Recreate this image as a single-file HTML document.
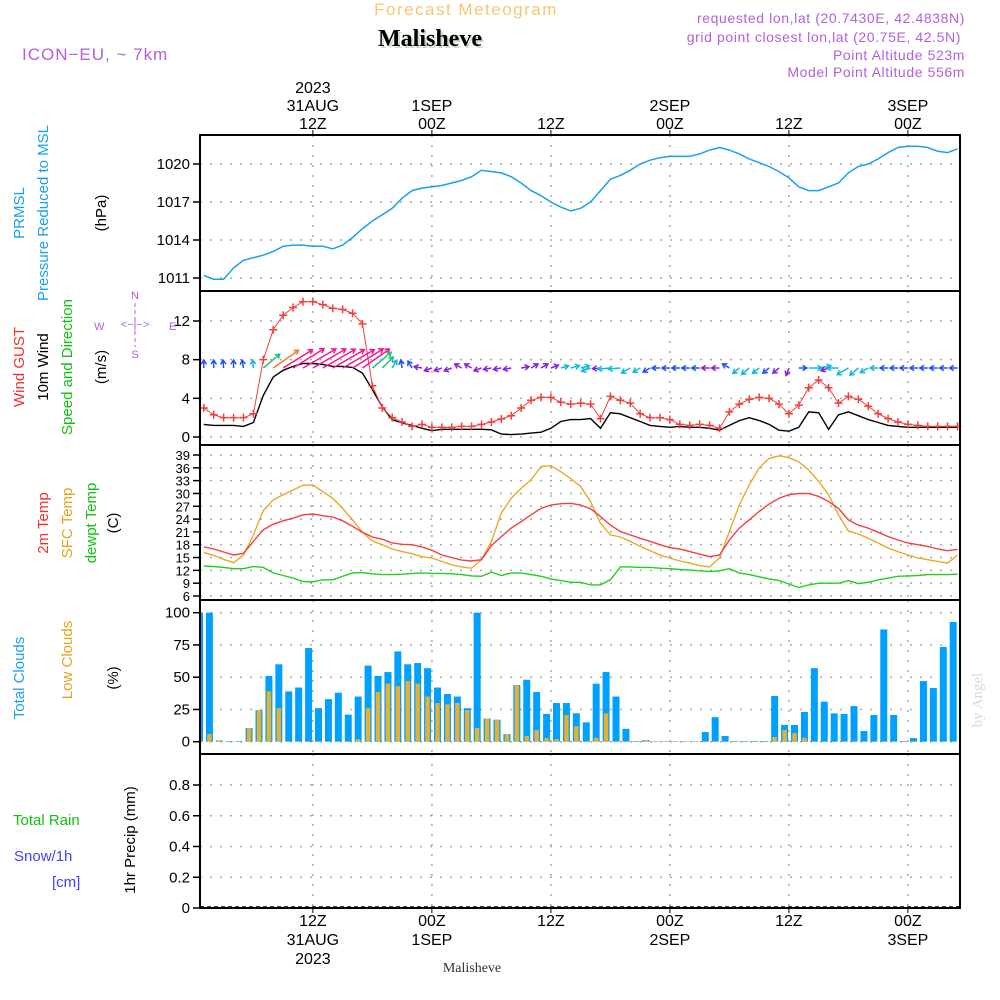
<!DOCTYPE html>
<html><head><meta charset="utf-8"><style>
html,body{margin:0;padding:0;background:#fff}
svg{display:block}
text{font-family:"Liberation Sans",sans-serif}
text.serif{font-family:"Liberation Serif",serif}
</style></head><body>
<svg id="chart" width="1000" height="1000" viewBox="0 0 1000 1000">
<text x="466" y="15" font-size="17" fill="#f5c870" text-anchor="middle" letter-spacing="1.5">Forecast Meteogram</text>
<text class="serif" x="432" y="48" font-size="24" font-weight="bold" text-anchor="middle" fill="#c8dcc8">Malisheve</text>
<text class="serif" x="430" y="46" font-size="24" font-weight="bold" text-anchor="middle" fill="#000">Malisheve</text>
<text x="22" y="60" font-size="17" fill="#b060e0" letter-spacing="1">ICON−EU, ~ 7km</text>
<g font-size="14" fill="#b060e0" text-anchor="end" letter-spacing="0.6">
<text x="965" y="23">requested lon,lat (20.7430E, 42.4838N)</text>
<text x="961" y="42">grid point closest lon,lat (20.75E, 42.5N)</text>
<text x="965" y="60">Point Altitude 523m</text>
<text x="965" y="77">Model Point Altitude 556m</text>
</g>
<g id="axes"></g>
<g id="marks"></g>
<g font-size="15">
<text transform="translate(24,213) rotate(-90)" fill="#1aa0ee" text-anchor="middle">PRMSL</text>
<text transform="translate(48,213) rotate(-90)" fill="#1aa0ee" text-anchor="middle">Pressure Reduced to MSL</text>
<text transform="translate(106,213) rotate(-90)" fill="#000" text-anchor="middle">(hPa)</text>
<text transform="translate(24,367) rotate(-90)" fill="#f03030" text-anchor="middle">Wind GUST</text>
<text transform="translate(48,367) rotate(-90)" fill="#000" text-anchor="middle">10m Wind</text>
<text transform="translate(72,367) rotate(-90)" fill="#10c010" text-anchor="middle">Speed and Direction</text>
<text transform="translate(106,367) rotate(-90)" fill="#000" text-anchor="middle">(m/s)</text>
<text transform="translate(48,523) rotate(-90)" fill="#f03030" text-anchor="middle">2m Temp</text>
<text transform="translate(72,523) rotate(-90)" fill="#e8a020" text-anchor="middle">SFC Temp</text>
<text transform="translate(96,523) rotate(-90)" fill="#10c010" text-anchor="middle">dewpt Temp</text>
<text transform="translate(118,523) rotate(-90)" fill="#000" text-anchor="middle">(C)</text>
<text transform="translate(24,678) rotate(-90)" fill="#1aa0ee" text-anchor="middle">Total Clouds</text>
<text transform="translate(72,660) rotate(-90)" fill="#e8a020" text-anchor="middle">Low Clouds</text>
<text transform="translate(118,678) rotate(-90)" fill="#000" text-anchor="middle">(%)</text>
<text x="13" y="825" fill="#10c010">Total   Rain</text>
<text x="14" y="861" fill="#4040ff">Snow/1h</text>
<text x="52" y="887" fill="#4040ff">[cm]</text>
<text transform="translate(135,840) rotate(-90)" fill="#000" text-anchor="middle">1hr Precip (mm)</text>
</g>
<g font-size="11" fill="#b060e0">
<text x="135" y="299" text-anchor="middle">N</text>
<text x="135" y="358" text-anchor="middle">S</text>
<text x="94" y="330">W</text>
<text x="169" y="330">E</text>
<text x="135" y="328" text-anchor="middle">&lt;−|−&gt;</text>
<line x1="135" y1="303" x2="135" y2="347" stroke="#b060e0" stroke-dasharray="4,3"/>
</g>
<text class="serif" transform="translate(982,700) rotate(-90)" font-size="15" fill="#d8d8d8" text-anchor="middle">by Angel</text>
<text class="serif" x="472" y="972" font-size="14" fill="#333" text-anchor="middle">Malisheve</text>
</svg>
<script>
const pressure=[1011.2,1010.9,1010.9,1011.8,1012.4,1012.6,1012.8,1013.1,1013.5,1013.6,1013.6,1013.5,1013.5,1013.3,1013.6,1014.2,1014.9,1015.5,1016.0,1016.5,1017.3,1017.9,1018.1,1018.2,1018.3,1018.5,1018.7,1019.0,1019.5,1019.4,1019.3,1019.0,1018.5,1017.9,1017.5,1017.0,1016.6,1016.3,1016.5,1017.0,1017.9,1018.8,1019.1,1019.5,1020.0,1020.3,1020.5,1020.6,1020.6,1020.6,1020.8,1021.1,1021.3,1021.1,1020.8,1020.4,1020.1,1019.8,1019.4,1018.9,1018.2,1017.9,1017.9,1018.2,1018.5,1019.3,1019.8,1020.0,1020.4,1020.9,1021.3,1021.4,1021.4,1021.3,1021.0,1020.9,1021.2];
const gust=[3.0,2.3,2.0,2.0,2.0,2.4,8.0,11.1,12.6,13.4,14.0,14.0,13.7,13.3,13.2,12.8,11.7,5.3,3.0,2.0,1.55,1.1,1.3,1.0,1.0,1.0,1.1,1.1,1.3,1.55,1.86,2.2,3.0,3.8,4.1,4.1,3.6,3.4,3.5,3.4,1.9,4.2,3.8,3.5,2.4,2.0,2.0,1.8,1.3,1.2,1.3,1.2,0.9,2.6,3.4,3.9,4.1,4.0,3.4,2.4,3.3,5.1,5.9,5.1,3.5,4.2,3.9,3.2,2.4,1.9,1.55,1.3,1.2,1.1,1.1,1.1,1.1];
const wspd=[1.3,1.2,1.2,1.2,1.1,1.5,4.3,6.2,6.9,7.3,7.6,7.6,7.5,7.3,7.3,7.2,6.6,4.9,3.1,1.8,1.45,1.2,0.9,0.65,0.8,0.8,0.8,0.8,0.8,0.75,0.3,0.25,0.3,0.4,0.5,0.9,1.6,1.8,1.8,1.9,0.9,2.5,2.4,2.0,1.6,1.2,1.1,1.0,1.1,1.0,1.0,0.9,0.7,1.2,1.7,2.0,1.7,1.3,0.7,0.6,1.0,2.6,2.5,0.8,2.3,2.6,2.2,1.8,1.5,1.2,1.1,1.0,1.0,1.0,1.0,1.0,1.0];
const wdir=[90,90,95,90,100,95,40,35,32,32,30,30,30,30,30,32,35,40,45,60,100,120,170,200,200,200,150,150,200,190,190,190,10,30,30,20,15,15,15,200,185,185,185,210,210,210,180,180,180,180,180,180,180,150,220,220,220,220,220,250,0,0,10,200,180,210,220,210,180,180,180,180,180,180,180,180,180];
const temp2m=[17.5,17.0,16.3,15.6,16.0,18.8,21.5,22.8,23.6,24.2,25.0,25.2,24.8,24.5,23.6,22.3,20.9,19.8,19.3,18.4,18.1,18.0,17.5,16.7,15.6,15.0,14.4,14.2,14.5,17.8,19.9,21.9,23.4,25.0,26.5,27.3,27.6,27.7,27.3,26.4,24.6,22.6,21.1,20.3,19.5,18.8,18.0,17.3,17.0,16.4,15.8,15.2,15.6,19.1,21.9,23.8,25.8,27.5,28.9,29.7,30.0,30.0,29.3,28.1,26.5,23.8,22.6,21.9,20.9,19.9,19.1,18.4,18.0,17.6,17.0,16.6,16.9];
const tempSfc=[16.2,15.5,14.6,13.8,15.6,20.3,26.0,28.5,29.7,30.8,31.9,32.0,30.4,28.9,26.5,23.8,20.9,18.9,18.0,17.0,16.4,15.9,15.2,14.9,14.1,13.3,12.8,12.5,14.5,18.8,25.4,28.9,31.2,33.2,36.3,36.5,35.1,33.5,31.6,28.1,23.0,20.3,19.8,18.8,17.6,16.6,15.6,14.9,14.2,13.7,13.1,12.8,14.9,21.1,27.3,32.0,36.0,38.2,38.8,38.4,37.4,35.5,32.8,29.7,25.0,21.2,20.5,19.5,18.4,17.2,16.4,15.6,14.9,14.5,14.1,13.7,15.6];
const dewpt=[13.0,12.9,12.7,12.4,12.4,12.9,12.7,11.4,10.8,10.2,9.4,9.3,9.8,9.8,10.6,11.4,11.5,11.2,11.0,11.0,11.1,11.3,11.4,11.3,11.3,11.2,11.0,10.7,10.6,11.6,10.8,11.4,11.4,11.0,10.6,10.0,9.6,9.2,9.2,8.6,8.6,9.8,12.8,12.8,12.7,12.7,12.5,12.4,12.2,12.1,11.9,11.7,11.9,12.4,11.4,11.0,10.5,10.0,9.6,8.8,8.0,8.6,9.0,9.0,9.0,9.6,8.9,9.2,9.8,10.2,10.6,10.7,10.8,11.0,11.0,11.0,11.1];
const totalClouds=[100,100,1,0.5,0.5,10.6,24.5,51,60,39,42,72.6,26,33,38,21,35,59,51,54,70,60,61,57,42,37,35,26,100,18,17,6,44,48,38.5,21.5,30,30,22,15,45,54,35,10,0.5,1.3,0.3,0.3,0.3,0.3,0.3,7.5,19,4.4,0.5,0.5,0.5,0.5,35.4,13,13,23,57,31,22,21.5,27.6,8.3,20.7,87,20.7,0.5,2.8,47,41.6,73.4,92.8];
const lowClouds=[1.3,6,1,0.3,0.3,10.6,24.5,39,26,0.3,0.3,0.3,0.3,0.3,0.3,0.3,2,26,38.5,45,43,47,45,35,30,29,30,24.5,10.6,18,17,6,44,4.4,9,2.8,2,20.7,12,0.3,3,22,0.3,0.3,0.3,1.3,0.3,0.3,0.3,0.3,0.3,0.3,0.3,0.3,0.3,0.3,0.3,0.3,3.6,9,6.7,3,0.3,0.3,0.3,0.3,0.3,0.3,0.3,0.3,0.3,0.3,0.3,0.3,0.3,0.3,0.3];
const precip=[];
const pressTicks=[1011,1014,1017,1020];
const windTicks=[0,4,8,12];
const tempTicks=[6,9,12,15,18,21,24,27,30,33,36,39];
const cloudTicks=[0,25,50,75,100];
const precipTicks=[0,0.2,0.4,0.6,0.8];
const timeTicks=[11,23,35,47,59,71];
const timeTop=[["2023","31AUG","12Z"],["","1SEP","00Z"],["","","12Z"],["","2SEP","00Z"],["","","12Z"],["","3SEP","00Z"]];
const timeBottom=[["12Z","31AUG","2023"],["00Z","1SEP",""],["12Z","",""],["00Z","2SEP",""],["12Z","",""],["00Z","3SEP",""]];

const NS="http://www.w3.org/2000/svg";
const L=200,R=960;
const panels=[{t:135,b:291},{t:291,b:445},{t:445,b:600},{t:600,b:754},{t:754,b:908}];
function xh(h){return 203.8+9.917*h;}
function lin(d0,d1,r0,r1){return v=>r0+(v-d0)*(r1-r0)/(d1-d0);}
const yP=lin(1011,1020,278,164), yW=lin(0,12,437,321), yT=lin(6,39,596,455), yC=lin(0,100,741.7,612.7), yR=lin(0,0.8,908,785);
const axes=document.getElementById('axes'), marks=document.getElementById('marks');
function mk(tag,attrs,parent){const e=document.createElementNS(NS,tag);for(const k in attrs)e.setAttribute(k,attrs[k]);parent.appendChild(e);return e;}
const defs=mk('defs',{},document.getElementById('chart'));
panels.forEach((p,i)=>{const c=mk('clipPath',{id:'clip'+i},defs);mk('rect',{x:L,y:p.t,width:R-L,height:p.b-p.t},c);});
function yAxis(pi,ticks,fy,fmt){
  ticks.forEach(v=>{const y=fy(v);
    const g=mk('line',{x1:L,x2:R,y1:y,y2:y,stroke:'#aaa','stroke-width':1.5,'stroke-dasharray':'2,8'},axes);
    
    
    const tk=mk('line',{x1:L-7,x2:L,y1:y,y2:y,stroke:'#000','stroke-width':1.5},axes);
    
    
    const t=mk('text',{x:L-10,y:y+5,'font-size':pi==2?13:15,'text-anchor':'end',fill:'#000'},axes);
    t.textContent=fmt?fmt(v):v;
    
    
  });
}
panels.forEach((p,i)=>{
  timeTicks.forEach(h=>{const x=xh(h);
    const g=mk('line',{x1:x,x2:x,y1:p.t,y2:p.b,stroke:'#aaa','stroke-width':1.5,'stroke-dasharray':'2,8'},axes);
    
    
  });
});
yAxis(0,pressTicks,yP);
yAxis(1,windTicks,yW);
yAxis(2,tempTicks,yT);
yAxis(3,cloudTicks,yC);
yAxis(4,precipTicks,yR,v=>v===0?'0':v.toFixed(1));
timeTicks.forEach((h,i)=>{const x=xh(h);
  mk('line',{x1:x,x2:x,y1:130,y2:135,stroke:'#000'},axes);
  mk('line',{x1:x,x2:x,y1:908,y2:913,stroke:'#000'},axes);
  timeTop[i].forEach((s,j)=>{if(!s)return;const t=mk('text',{x:x,y:93+j*18,'font-size':16,'text-anchor':'middle',fill:'#000'},axes);t.textContent=s;
    
    });
  timeBottom[i].forEach((s,j)=>{if(!s)return;const t=mk('text',{x:x,y:926+j*19,'font-size':16,'text-anchor':'middle',fill:'#000'},axes);t.textContent=s;
    
    });
});
function line(arr,fy,color,pi,w,name){
  const d=arr.map((v,h)=>(h?'L':'M')+xh(h).toFixed(1)+','+fy(v).toFixed(1)).join('');
  const e=mk('path',{d:d,fill:'none',stroke:color,'stroke-width':w||1.4,'clip-path':'url(#clip'+pi+')'},marks);
  
  
}
line(pressure,yP,'#1aa0ee',0,1.5,'pressure-line');
totalClouds.forEach((v,h)=>{const cx=xh(h)-4.3;const y=yC(v);
  const b=mk('rect',{x:cx-3.5,y:y,width:7,height:yC(0)-y,fill:'#00a0ff','clip-path':'url(#clip3)'},marks);
  
  });
lowClouds.forEach((v,h)=>{const cx=xh(h)-4.3;const y=yC(v);
  const b=mk('rect',{x:cx-2.2,y:y,width:4.4,height:yC(0)-y,fill:'#e8b030','clip-path':'url(#clip3)'},marks);
  
  });
line(tempSfc,yT,'#e8a828',2,1.4,'sfc-temp-line');
line(temp2m,yT,'#f04040',2,1.4,'2m-temp-line');
line(dewpt,yT,'#20d020',2,1.4,'dewpoint-line');
line(wspd,yW,'#000',1,1.4,'wind-speed-line');
line(gust,yW,'#f04040',1,1,'gust-line');
gust.forEach((v,h)=>{const x=xh(h),y=yW(v);
  const g=mk('path',{d:`M${x-4},${y}H${x+4}M${x},${y-4}V${y+4}`,stroke:'#f04040','stroke-width':1.5},marks);
  
  });
function wcol(s){if(s<1.5)return s<0.95?'#8a20e0':'#2050ff';if(s<3)return '#10b8e0';if(s<5)return '#20c080';if(s<6.5)return '#f08030';return '#f01890';}
wdir.forEach((d,h)=>{const s=wspd[h];const Lh=Math.max(8,5*s);const a=d*Math.PI/180;
  const x0=xh(h),y0=368;const x1=x0+Lh*Math.cos(a),y1=y0-Lh*Math.sin(a);
  const hl=5;const a1=a+Math.PI*0.82,a2=a-Math.PI*0.82;
  const p=`M${x0},${y0}L${x1},${y1}M${x1+hl*Math.cos(a1)},${y1-hl*Math.sin(a1)}L${x1},${y1}L${x1+hl*Math.cos(a2)},${y1-hl*Math.sin(a2)}`;
  const e=mk('path',{d:p,fill:'none',stroke:wcol(s),'stroke-width':1.5},marks);
  
  });
const pb=mk('line',{x1:L,x2:R,y1:907,y2:907,stroke:'#000','stroke-width':1.5,'stroke-dasharray':'4,3'},marks);


panels.forEach((p,i)=>{const r=mk('rect',{x:L,y:p.t,width:R-L,height:p.b-p.t,fill:'none',stroke:'#000','stroke-width':2},axes.parentNode);
  
  });
</script>
</body></html>
